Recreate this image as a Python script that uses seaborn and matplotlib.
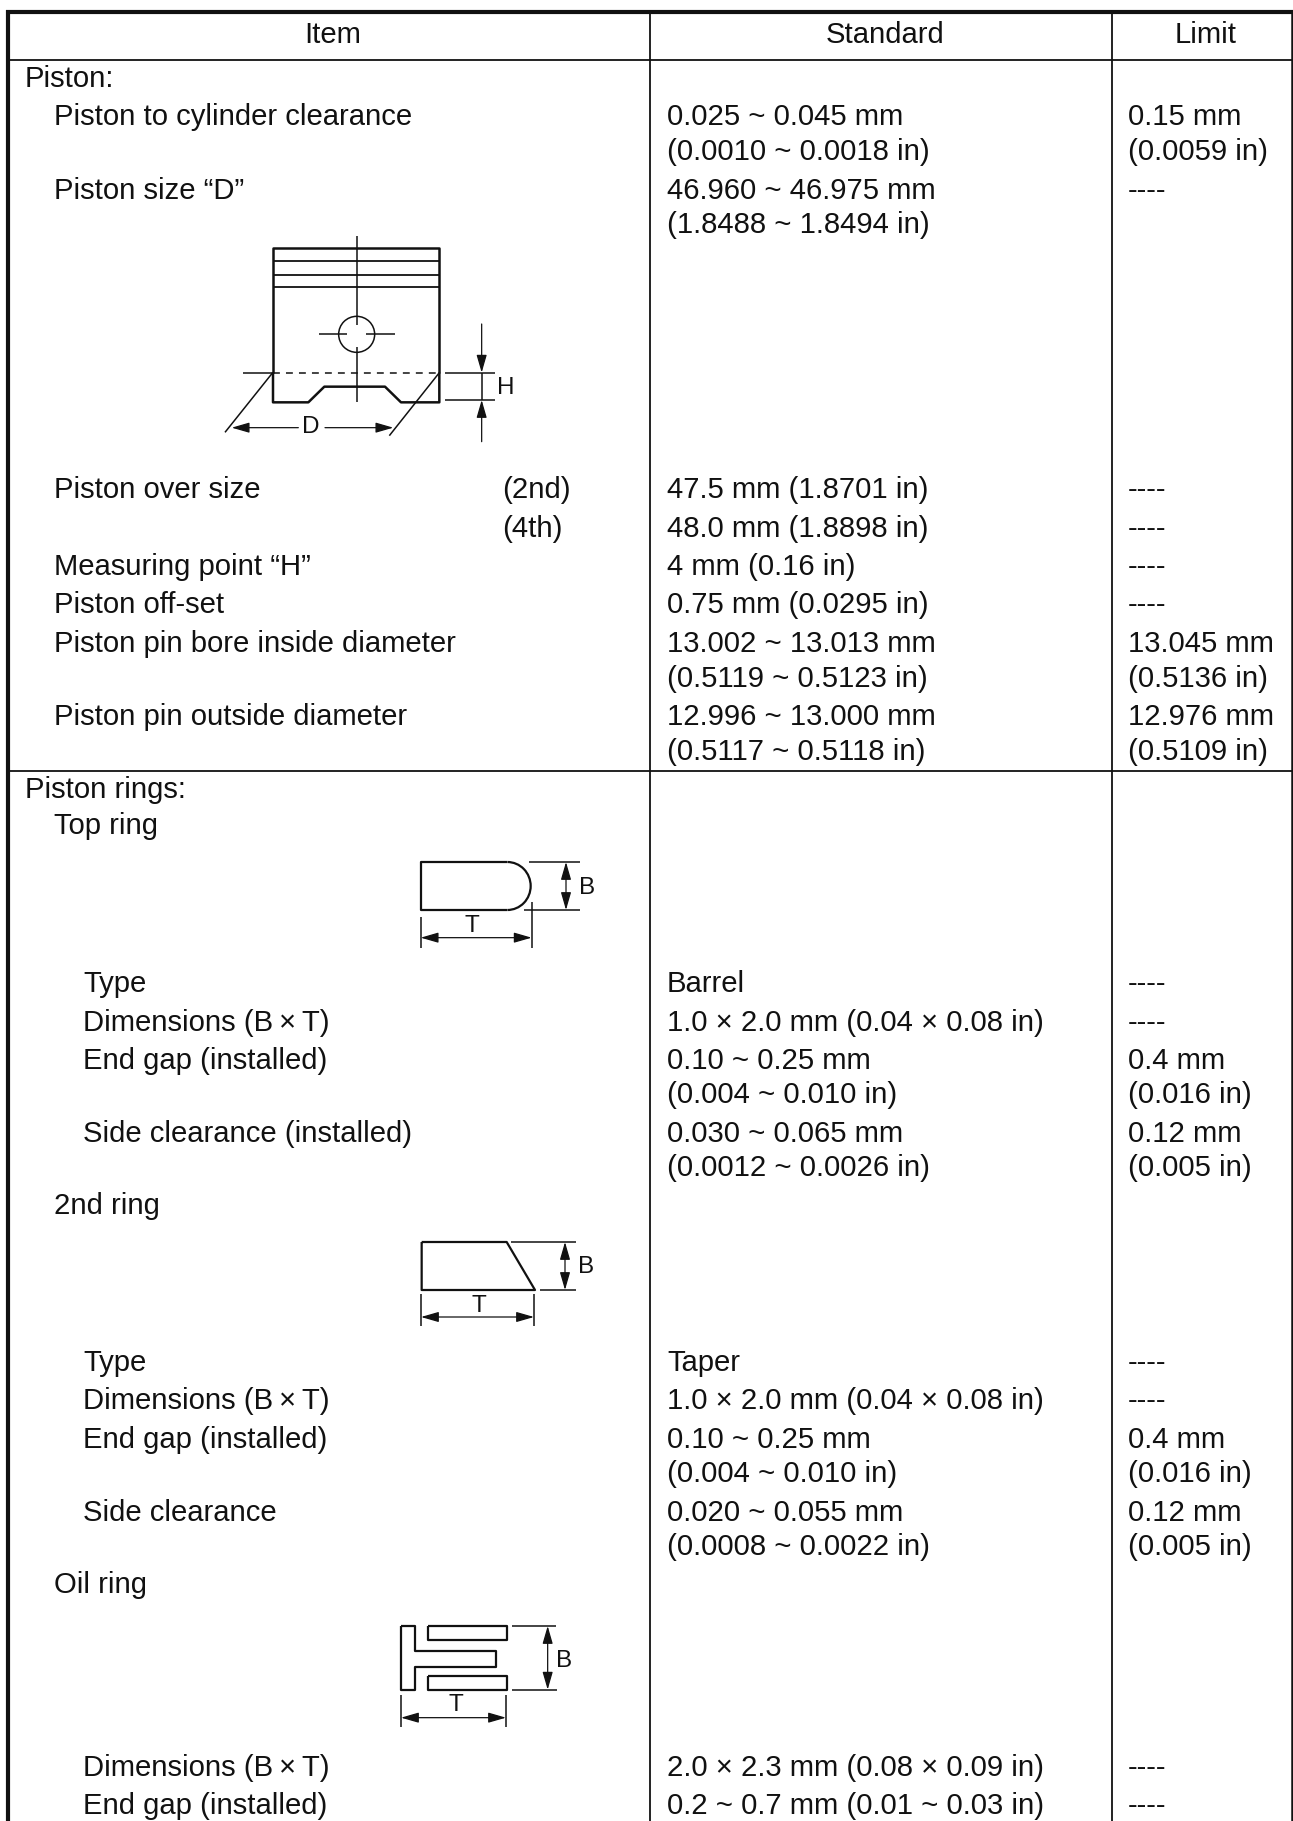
import matplotlib
matplotlib.use("Agg")
import matplotlib.pyplot as plt
from matplotlib.patches import Arc, Circle
import seaborn as sns

sns.set_theme(style="white")
plt.rcParams['font.family'] = ['Liberation Sans', 'DejaVu Sans']
plt.rcParams['lines.solid_capstyle'] = 'butt'
plt.rcParams['lines.dash_capstyle'] = 'butt'

# ---- text of the table ----
headers = ["Item", "Standard", "Limit"]
header_x = [333, 885, 1206]
FS = 21.1

item_l0 = [("Piston:", 87), ("Piston rings:", 798)]
item_l1 = [("Piston to cylinder clearance", 125), ("Piston size \u201cD\u201d", 199),
           ("Piston over size", 498), ("Measuring point \u201cH\u201d", 575),
           ("Piston off-set", 613), ("Piston pin bore inside diameter", 652),
           ("Piston pin outside diameter", 725), ("Top ring", 834),
           ("2nd ring", 1214), ("Oil ring", 1593)]
item_l2 = [("Type", 992), ("Dimensions (B\u2009\u00d7\u2009T)", 1031), ("End gap (installed)", 1069),
           ("Side clearance (installed)", 1142), ("Type", 1371),
           ("Dimensions (B\u2009\u00d7\u2009T)", 1409), ("End gap (installed)", 1448),
           ("Side clearance", 1521), ("Dimensions (B\u2009\u00d7\u2009T)", 1776),
           ("End gap (installed)", 1814)]
item_sub = [("(2nd)", 498), ("(4th)", 537)]
standard = [("0.025 ~ 0.045 mm", 125), ("(0.0010 ~ 0.0018 in)", 160),
            ("46.960 ~ 46.975 mm", 199), ("(1.8488 ~ 1.8494 in)", 233),
            ("47.5 mm (1.8701 in)", 498), ("48.0 mm (1.8898 in)", 537),
            ("4 mm (0.16 in)", 575), ("0.75 mm (0.0295 in)", 613),
            ("13.002 ~ 13.013 mm", 652), ("(0.5119 ~ 0.5123 in)", 687),
            ("12.996 ~ 13.000 mm", 725), ("(0.5117 ~ 0.5118 in)", 760),
            ("Barrel", 992), ("1.0 \u00d7 2.0 mm (0.04 \u00d7 0.08 in)", 1031),
            ("0.10 ~ 0.25 mm", 1069), ("(0.004 ~ 0.010 in)", 1103),
            ("0.030 ~ 0.065 mm", 1142), ("(0.0012 ~ 0.0026 in)", 1176),
            ("Taper", 1371), ("1.0 \u00d7 2.0 mm (0.04 \u00d7 0.08 in)", 1409),
            ("0.10 ~ 0.25 mm", 1448), ("(0.004 ~ 0.010 in)", 1482),
            ("0.020 ~ 0.055 mm", 1521), ("(0.0008 ~ 0.0022 in)", 1555),
            ("2.0 \u00d7 2.3 mm (0.08 \u00d7 0.09 in)", 1776),
            ("0.2 ~ 0.7 mm (0.01 ~ 0.03 in)", 1814)]
limit = [("0.15 mm", 125), ("(0.0059 in)", 160), ("----", 199), ("----", 498), ("----", 537),
         ("----", 575), ("----", 613), ("13.045 mm", 652), ("(0.5136 in)", 687),
         ("12.976 mm", 725), ("(0.5109 in)", 760), ("----", 992), ("----", 1031),
         ("0.4 mm", 1069), ("(0.016 in)", 1103), ("0.12 mm", 1142), ("(0.005 in)", 1176),
         ("----", 1371), ("----", 1409), ("0.4 mm", 1448), ("(0.016 in)", 1482),
         ("0.12 mm", 1521), ("(0.005 in)", 1555), ("----", 1776), ("----", 1814)]

fig = plt.figure(figsize=(12.93, 18.21), dpi=100)
ax = fig.add_axes([0, 0, 1, 1])
K = "#111111"


def seg(xs, ys, lw=1.5, **kw):
    sns.lineplot(x=xs, y=ys, ax=ax, color=K, linewidth=lw, estimator=None,
                 sort=False, errorbar=None, legend=False, **kw)


def zoom_seg(ox, oy, pts, lw=1.5, **kw):
    seg([ox + p[0] / 3 for p in pts], [oy + p[1] / 3 for p in pts], lw=lw, **kw)


def arrow(ox, oy, a, b, style="-|>"):
    ax.annotate("", xy=(ox + b[0] / 3, oy + b[1] / 3), xytext=(ox + a[0] / 3, oy + a[1] / 3),
                arrowprops=dict(arrowstyle=style + ",head_length=0.9,head_width=0.26",
                                mutation_scale=12, color=K, lw=0.9,
                                shrinkA=0, shrinkB=0))


def label(ox, oy, x, y, s):
    ax.text(ox + x / 3, oy + y / 3, s, fontsize=17.5, color=K, ha="center", va="center")


# ---- table rules ----
seg([8, 8], [10, 1821], lw=3)
seg([6, 1293], [11.5, 11.5], lw=3)
seg([8, 1293], [60, 60], lw=1.3)
seg([8, 1293], [771, 771], lw=1.3)
seg([650, 650], [11, 1821], lw=1.3)
seg([1112, 1112], [11, 1821], lw=1.3)
seg([1291.7, 1291.7], [11, 1821], lw=1.8)

# ---- table text ----
for x, s in zip(header_x, headers):
    ax.text(x, 43, s, fontsize=FS, color=K, ha="center", va="baseline")
for rows, x in [(item_l0, 25), (item_l1, 54), (item_l2, 83), (item_sub, 502),
                (standard, 667), (limit, 1128)]:
    for s, y in rows:
        ax.text(x, y, s, fontsize=FS, color=K, ha="left", va="baseline")

# ---- piston drawing ----
ox, oy = 200, 230
zoom_seg(ox, oy, [(219, 428), (219, 53), (718, 53), (718, 428)], lw=1.8)
for yy in (93, 134, 172):
    zoom_seg(ox, oy, [(219, yy), (718, yy)], lw=1.3)
zoom_seg(ox, oy, [(219, 428), (219, 517), (325, 517), (373, 470), (555, 470), (603, 517),
                  (718, 517), (718, 428)], lw=1.8)
zoom_seg(ox, oy, [(470, 18), (470, 285)], lw=1.1)
zoom_seg(ox, oy, [(470, 352), (470, 515)], lw=1.1)
zoom_seg(ox, oy, [(358, 312), (442, 312)], lw=1.1)
zoom_seg(ox, oy, [(498, 312), (585, 312)], lw=1.1)
ax.add_patch(Circle((ox + 470 / 3, oy + 313 / 3), 54 / 3, fill=False, ec=K, lw=1.1))
zoom_seg(ox, oy, [(130, 428), (218, 428)], lw=1.1)
ax.plot([ox + 218 / 3, ox + 718 / 3], [oy + 428 / 3, oy + 428 / 3], color=K, lw=1.1,
        dashes=(4.5, 4))
zoom_seg(ox, oy, [(735, 428), (885, 428)], lw=1.1)
zoom_seg(ox, oy, [(735, 510), (885, 510)], lw=1.1)
zoom_seg(ox, oy, [(218, 428), (75, 607)], lw=1.1)
zoom_seg(ox, oy, [(718, 428), (568, 617)], lw=1.1)
zoom_seg(ox, oy, [(845, 428), (845, 510)], lw=1.1)
arrow(ox, oy, (295, 593), (95, 593))
arrow(ox, oy, (375, 593), (580, 593))
arrow(ox, oy, (845, 282), (845, 428))
arrow(ox, oy, (845, 635), (845, 510))
label(ox, oy, 333, 592, "D")
label(ox, oy, 918, 475, "H")

# ---- top ring ----
ox, oy = 400, 840
zoom_seg(ox, oy, [(322, 66), (62, 66), (62, 210), (322, 210)], lw=1.6)
ax.add_patch(Arc((ox + 322 / 3, oy + 138 / 3), 140 / 3, 144 / 3, theta1=-90, theta2=90,
                 ec=K, lw=1.6))
zoom_seg(ox, oy, [(387, 66), (540, 66)], lw=1.1)
zoom_seg(ox, oy, [(373, 210), (540, 210)], lw=1.1)
zoom_seg(ox, oy, [(62, 232), (62, 325)], lw=1.1)
zoom_seg(ox, oy, [(395, 187), (395, 325)], lw=1.1)
arrow(ox, oy, (62, 293), (395, 293), "<|-|>")
arrow(ox, oy, (498, 66), (498, 210), "<|-|>")
label(ox, oy, 562, 143, "B")
label(ox, oy, 216, 257, "T")

# ---- second ring ----
ox, oy = 400, 1220
zoom_seg(ox, oy, [(65, 66), (320, 66), (405, 210), (65, 210), (65, 66)], lw=1.6)
zoom_seg(ox, oy, [(333, 66), (527, 66)], lw=1.1)
zoom_seg(ox, oy, [(420, 210), (527, 210)], lw=1.1)
zoom_seg(ox, oy, [(63, 222), (63, 318)], lw=1.1)
zoom_seg(ox, oy, [(402, 222), (402, 318)], lw=1.1)
arrow(ox, oy, (63, 291), (402, 291), "<|-|>")
arrow(ox, oy, (495, 66), (495, 210), "<|-|>")
label(ox, oy, 558, 140, "B")
label(ox, oy, 236, 257, "T")

# ---- oil ring ----
ox, oy = 380, 1600
zoom_seg(ox, oy, [(62, 77), (106, 77), (106, 153), (348, 153), (348, 200), (106, 200),
                  (106, 271), (62, 271), (62, 77)], lw=1.6)
zoom_seg(ox, oy, [(145, 77), (380, 77), (380, 121), (145, 121), (145, 77)], lw=1.6)
zoom_seg(ox, oy, [(145, 228), (380, 228), (380, 271), (145, 271), (145, 228)], lw=1.6)
zoom_seg(ox, oy, [(397, 78), (528, 78)], lw=1.1)
zoom_seg(ox, oy, [(397, 269), (530, 269)], lw=1.1)
zoom_seg(ox, oy, [(63, 285), (63, 380)], lw=1.1)
zoom_seg(ox, oy, [(378, 285), (378, 380)], lw=1.1)
arrow(ox, oy, (63, 353), (378, 353), "<|-|>")
arrow(ox, oy, (503, 78), (503, 269), "<|-|>")
label(ox, oy, 553, 183, "B")
label(ox, oy, 228, 316, "T")

ax.set_xlim(0, 1293)
ax.set_ylim(1821, 0)
ax.set_axis_off()
fig.savefig("out.png", dpi=100, facecolor="white")
